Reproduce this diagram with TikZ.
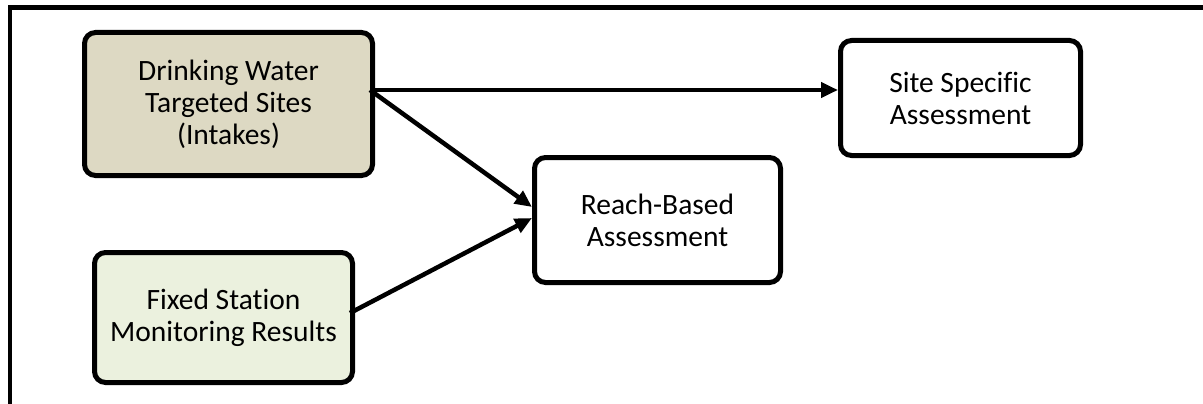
\documentclass[tikz,border=0pt]{standalone}
\usepackage{fontspec}
\setmainfont{Carlito}[Ligatures={NoCommon,NoRare,NoContextual}]
\usetikzlibrary{arrows.meta}
\definecolor{tanfill}{RGB}{221,217,195}
\definecolor{greenfill}{RGB}{235,241,222}
\begin{document}
\begin{tikzpicture}[x=1pt,y=-1pt,
  box/.style={draw=black, line width=5pt, rounded corners=11pt, align=center,
    font=\fontsize{29.5}{32}\selectfont, inner sep=0pt, anchor=north west},
  conn/.style={line width=4.5pt, -{Triangle[length=17pt,width=15pt]}}]
\useasboundingbox (0,0) rectangle (1203,404);
\fill[white] (0,0) rectangle (1203,404);
\draw[line width=4.5pt] (10,404) -- (10,7.5) -- (1203,7.5);
\node[box, fill=tanfill, minimum width=288pt, minimum height=143pt] (dw) at (82,30)
  {Drinking Water\\Targeted Sites\\(Intakes)};
\node[box, fill=greenfill, minimum width=258pt, minimum height=130pt] (fs) at (92,250)
  {Fixed Station\\Monitoring Results};
\node[box, fill=white, minimum width=246pt, minimum height=125pt] (rb) at (532,155)
  {Reach-Based\\Assessment};
\node[box, fill=white, minimum width=240pt, minimum height=115pt] (ss) at (838,38)
  {Site Specific\\Assessment};
\coordinate (dwout) at (370,90);
\coordinate (fsout) at (350,313);
\coordinate (rbin1) at (532,207);
\coordinate (rbin2) at (532,218);
\coordinate (ssin) at (838,90);
\draw[conn] (dwout) -- (ssin);
\draw[conn] (dwout) -- (rbin1);
\draw[conn] (fsout) -- (rbin2);
\end{tikzpicture}
\end{document}
